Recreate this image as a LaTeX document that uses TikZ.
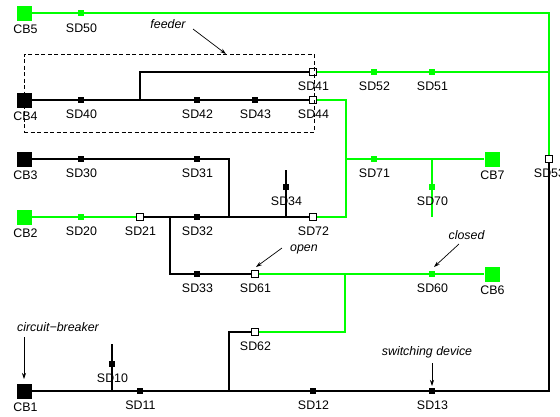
\documentclass[tikz,border=0pt]{standalone}
\usepackage{fontspec}
\setmainfont{Liberation Sans}
\usetikzlibrary{arrows.meta}
\definecolor{gr}{RGB}{0,255,0}
\begin{document}
\begin{tikzpicture}[x=1pt,y=-1pt, font=\fontsize{12.4}{14}\selectfont,
 cbbox/.style={minimum size=15pt, inner sep=0pt, fill=black},
 cbgreen/.style={cbbox, fill=gr},
 sdbox/.style={minimum size=6pt, inner sep=0pt, fill=black},
 sdgreen/.style={sdbox, fill=gr},
 openbox/.style={minimum size=6.5pt, inner sep=0pt, draw=black, fill=white, line width=0.9pt},
 gline/.style={draw=gr, line width=1.7pt},
 bline/.style={draw=black, line width=1.5pt},
 lab/.style={anchor=base, inner sep=0pt},
 note/.style={anchor=base, inner sep=0pt, font=\fontsize{12.4}{14}\selectfont\itshape},
 pointer/.style={-{Stealth[length=6pt,width=4pt]}, line width=0.7pt}]
\useasboundingbox (0,0) rectangle (560,416);
% devices
\node[cbgreen] (CB5) at (24,13) {};
\node[sdgreen] (SD50) at (81,13) {};
\node[cbbox] (CB4) at (24,100) {};
\node[sdbox] (SD40) at (81,100) {};
\node[sdbox] (SD42) at (197,100) {};
\node[sdbox] (SD43) at (255,100) {};
\node[openbox] (SD44) at (313,100) {};
\node[openbox] (SD41) at (313,72) {};
\node[sdgreen] (SD52) at (374,72) {};
\node[sdgreen] (SD51) at (432,72) {};
\node[openbox] (SD53) at (549,159) {};
\node[cbbox] (CB3) at (24,159) {};
\node[sdbox] (SD30) at (81,159) {};
\node[sdbox] (SD31) at (197,159) {};
\node[cbgreen] (CB2) at (24,217) {};
\node[sdgreen] (SD20) at (81,217) {};
\node[openbox] (SD21) at (140,217) {};
\node[sdbox] (SD32) at (197,217) {};
\node[sdbox] (SD34) at (286,187) {};
\node[openbox] (SD72) at (313,217) {};
\node[sdgreen] (SD71) at (374,159) {};
\node[sdgreen] (SD70) at (432,187) {};
\node[cbgreen] (CB7) at (492,159) {};
\node[sdbox] (SD33) at (197,274) {};
\node[openbox] (SD61) at (255,274) {};
\node[sdgreen] (SD60) at (432,274) {};
\node[cbgreen] (CB6) at (492,274) {};
\node[openbox] (SD62) at (255,332) {};
\node[cbbox] (CB1) at (24,391) {};
\node[sdbox] (SD10) at (112,364) {};
\node[sdbox] (SD11) at (140,391) {};
\node[sdbox] (SD12) at (313,391) {};
\node[sdbox] (SD13) at (432,391) {};
% junctions
\coordinate (j1) at (140,100);
\coordinate (j1t) at (140,72);
\coordinate (jTR) at (549,13);
\coordinate (jR41) at (549,72);
\coordinate (jBR) at (549,391);
\coordinate (j44) at (346,100);
\coordinate (j71) at (346,159);
\coordinate (j72) at (346,217);
\coordinate (j70) at (432,159);
\coordinate (j70b) at (432,217);
\coordinate (j31) at (229,159);
\coordinate (j31b) at (229,217);
\coordinate (j34t) at (286,170);
\coordinate (j34b) at (286,217);
\coordinate (j21) at (170,217);
\coordinate (j33) at (170,274);
\coordinate (j60) at (345,274);
\coordinate (j62) at (345,332);
\coordinate (j62l) at (229,332);
\coordinate (j12) at (229,391);
\coordinate (j10t) at (112,344);
\coordinate (j10b) at (112,391);
% lines
\draw[gline] (CB5) -- (SD50) -- (jTR) -- (SD53);
\draw[gline] (SD41) -- (SD52) -- (SD51) -- (jR41);
\draw[bline] (SD53) -- (jBR) -- (SD13) -- (SD12) -- (j12) -- (SD11) -- (j10b) -- (CB1);
\draw[bline] (j10b) -- (SD10) -- (j10t);
\draw[bline] (CB4) -- (SD40) -- (j1) -- (SD42) -- (SD43) -- (SD44);
\draw[bline] (j1) -- (j1t) -- (SD41);
\draw[gline] (SD44) -- (j44) -- (j71) -- (j72) -- (SD72);
\draw[gline] (j71) -- (SD71) -- (j70) -- (CB7);
\draw[gline] (j70) -- (SD70) -- (j70b);
\draw[bline] (CB3) -- (SD30) -- (SD31) -- (j31) -- (j31b);
\draw[gline] (CB2) -- (SD20) -- (SD21);
\draw[bline] (SD21) -- (j21) -- (SD32) -- (j31b) -- (j34b) -- (SD72);
\draw[bline] (j34t) -- (SD34) -- (j34b);
\draw[bline] (j21) -- (j33) -- (SD33) -- (SD61);
\draw[gline] (SD61) -- (j60) -- (SD60) -- (CB6);
\draw[gline] (j60) -- (j62) -- (SD62);
\draw[bline] (SD62) -- (j62l) -- (j12);
% labels
\node[lab] (lCB5) at (25.5,33) {CB5};
\node[lab] (lSD50) at (81.5,32) {SD50};
\node[lab] (lCB4) at (25.5,120) {CB4};
\node[lab] (lSD40) at (81.5,118.5) {SD40};
\node[lab] (lSD42) at (197.5,118.5) {SD42};
\node[lab] (lSD43) at (255.5,118.5) {SD43};
\node[lab] (lSD44) at (313.5,118.5) {SD44};
\node[lab] (lSD41) at (313.5,90.5) {SD41};
\node[lab] (lSD52) at (374.5,90.5) {SD52};
\node[lab] (lSD51) at (432.5,90.5) {SD51};
\node[lab] (lSD53) at (549.5,177.5) {SD53};
\node[lab] (lCB3) at (25.5,179) {CB3};
\node[lab] (lSD30) at (81.5,177.5) {SD30};
\node[lab] (lSD31) at (197.5,177.5) {SD31};
\node[lab] (lCB2) at (25.5,237) {CB2};
\node[lab] (lSD20) at (81.5,235.5) {SD20};
\node[lab] (lSD21) at (140.5,235.5) {SD21};
\node[lab] (lSD32) at (197.5,235.5) {SD32};
\node[lab] (lSD34) at (286.5,205.5) {SD34};
\node[lab] (lSD72) at (313.5,235.5) {SD72};
\node[lab] (lSD71) at (374.5,177.5) {SD71};
\node[lab] (lSD70) at (432.5,205.5) {SD70};
\node[lab] (lCB7) at (492.5,179) {CB7};
\node[lab] (lSD33) at (197.5,292.5) {SD33};
\node[lab] (lSD61) at (255.5,292.5) {SD61};
\node[lab] (lSD60) at (432.5,292.5) {SD60};
\node[lab] (lCB6) at (492.5,294) {CB6};
\node[lab] (lSD62) at (255.5,350.5) {SD62};
\node[lab] (lCB1) at (25.5,411) {CB1};
\node[lab] (lSD10) at (112.5,382.5) {SD10};
\node[lab] (lSD11) at (140.5,409.5) {SD11};
\node[lab] (lSD12) at (313.5,409.5) {SD12};
\node[lab] (lSD13) at (432.5,409.5) {SD13};
% annotations
\node[note] (nfeeder) at (168,28.5) {feeder};
\node[note] (nopen) at (304,251) {open};
\node[note] (nclosed) at (466.5,239.5) {closed};
\node[note] (ncb) at (58,331) {circuit−breaker};
\node[note] (nsw) at (427,355) {switching device};
\coordinate (af1) at (193,29);
\coordinate (af2) at (226,54);
\coordinate (ao1) at (282,248);
\coordinate (ao2) at (256,267);
\coordinate (ac1) at (459,244);
\coordinate (ac2) at (434,267);
\coordinate (ab1) at (24,337);
\coordinate (ab2) at (24,379);
\coordinate (as1) at (432,363);
\coordinate (as2) at (432,386);
\draw[pointer] (af1) -- (af2);
\draw[pointer] (ao1) -- (ao2);
\draw[pointer] (ac1) -- (ac2);
\draw[pointer] (ab1) -- (ab2);
\draw[pointer] (as1) -- (as2);
% feeder box
\node[draw, dash pattern=on 4pt off 2.5pt, line width=0.8pt, minimum width=290pt, minimum height=78pt, inner sep=0pt] (feederbox) at (169,93) {};
\end{tikzpicture}
\end{document}
